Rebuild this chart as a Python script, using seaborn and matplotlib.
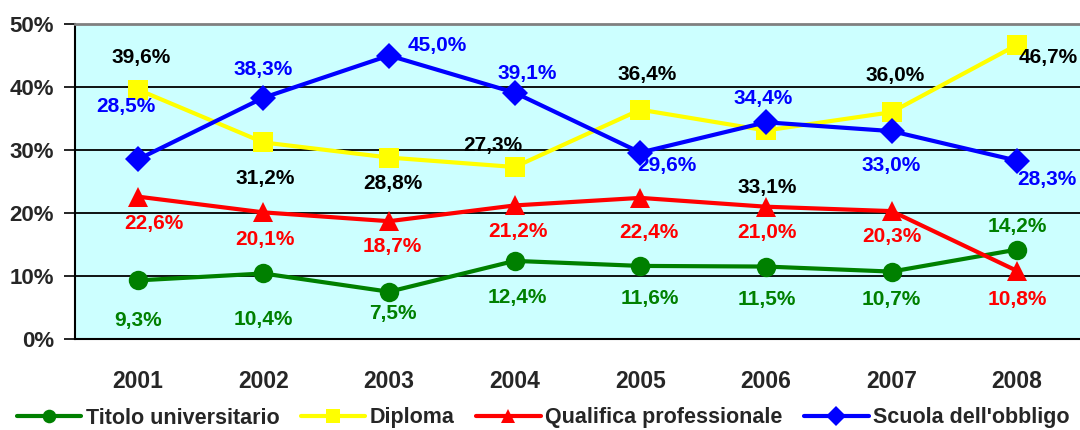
import matplotlib
matplotlib.use("Agg")
import matplotlib.pyplot as plt
import seaborn as sns
import pandas as pd
import numpy as np

years = ["2001", "2002", "2003", "2004", "2005", "2006", "2007", "2008"]
titolo = [9.3, 10.4, 7.5, 12.4, 11.6, 11.5, 10.7, 14.2]
diploma = [39.6, 31.2, 28.8, 27.3, 36.4, 33.1, 36.0, 46.7]
qualifica = [22.6, 20.1, 18.7, 21.2, 22.4, 21.0, 20.3, 10.8]
scuola = [28.5, 38.3, 45.0, 39.1, 29.6, 34.4, 33.0, 28.3]
series_names = ["Titolo universitario", "Diploma", "Qualifica professionale", "Scuola dell'obbligo"]
yticks = [0, 10, 20, 30, 40, 50]

sns.set_theme(style="white")
plt.rcParams['font.family'] = ['Liberation Sans', 'DejaVu Sans']
plt.rcParams['font.weight'] = 'bold'

fig = plt.figure(figsize=(10.8, 4.3), dpi=100)
ax = fig.add_axes([75/1080, 1-339/430, 1-75/1080, (339-24)/430])
ax.set_facecolor("#CCFFFF")

series = [titolo, diploma, qualifica, scuola]
colors = ["#008000", "#FFFF00", "#FF0000", "#0000FF"]
markers = ["o", "s", "^", "D"]
msizes = [14, 14, 15, 13]
label_colors = ["#008000", "#000000", "#FF0000", "#0000FF"]

# label offsets in pixels (dx, dy)
offsets = [
    [(0, -40), (0, -46), (4, -22), (3, -37), (9, -33), (1, -33), (0, -28), (0, 23)],
    [(3, 32), (2, -36), (4, -26), (-22, 22), (7, 35), (1, -57), (4, 37), (31, -13)],
    [(16, -27), (2, -27), (3, -25), (3, -26), (9, -35), (1, -26), (0, -25), (0, -29)],
    [(-12, 53), (0, 28), (48, 10), (13, 19), (27, -13), (-3, 24), (0, -34), (30, -19)],
]

x = np.arange(len(years))
rows = []
for name, vals in zip(series_names, series):
    for i, v in enumerate(vals):
        rows.append({"x": i, "y": v, "serie": name})
df = pd.DataFrame(rows)

sns.lineplot(data=df, x="x", y="y", hue="serie", style="serie",
             hue_order=series_names, style_order=series_names,
             palette=dict(zip(series_names, colors)),
             markers=dict(zip(series_names, markers)),
             dashes=False, linewidth=3, markersize=14, markeredgewidth=0,
             ax=ax, zorder=3, legend=True)

for line, ms in zip(ax.get_lines(), msizes):
    line.set_markersize(ms)

for vals, offs, lc in zip(series, offsets, label_colors):
    for i, (v, (dx, dy)) in enumerate(zip(vals, offs)):
        ax.annotate(f"{v:.1f}%".replace(".", ","), (i, v), xytext=(dx, dy),
                    textcoords="offset pixels", ha="center", va="center",
                    color=lc, fontsize=15, fontweight="bold", zorder=5)

ax.set_xlim(-0.5, len(years) - 0.5)
ax.set_ylim(0, 50)
ax.set_yticks(yticks)
ax.set_yticklabels([f"{t}%" for t in yticks], fontsize=16, fontweight="bold")
ax.yaxis.grid(True, color="black", linewidth=1.3)
ax.set_axisbelow(True)
ax.set_xticks(x)
ax.set_xticklabels(years, fontsize=16.5, fontweight="bold")
ax.set_xticks(np.arange(0.5, len(years) - 0.5 + 1, 1), minor=True)
ax.tick_params(axis="x", which="major", length=0, pad=22)
ax.tick_params(axis="x", which="minor", length=7, width=1.2, direction="out", color="black")
ax.tick_params(axis="y", length=8, width=1.2, direction="out", color="black", pad=7, left=True)
ax.set_xlabel("")
ax.set_ylabel("")

for s in ["left", "bottom"]:
    ax.spines[s].set_color("black")
    ax.spines[s].set_linewidth(1.5)
ax.spines["top"].set_color("#808080")
ax.spines["top"].set_linewidth(2)
ax.spines["right"].set_visible(False)

handles, labels = ax.get_legend_handles_labels()
ax.legend(handles, labels, loc="center", bbox_to_anchor=(0.5 - 37/1080, (339-418)/315),
          bbox_transform=ax.transAxes, ncol=4, frameon=False,
          prop={"weight": "bold", "size": 15.5}, handlelength=3.0, markerscale=0.7,
          columnspacing=1.0, handletextpad=0.2, borderaxespad=0)

fig.savefig("out.png", dpi=100)
